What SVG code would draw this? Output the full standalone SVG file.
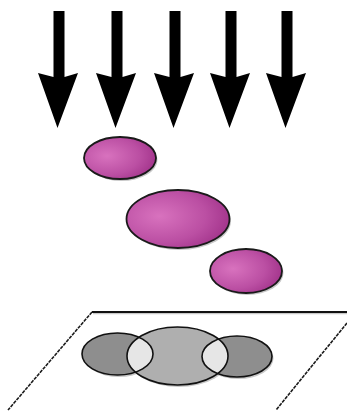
<svg xmlns="http://www.w3.org/2000/svg" width="347" height="411" viewBox="0 0 347 411">
<defs>
<radialGradient id="mag" cx="0.32" cy="0.45" r="0.75">
<stop offset="0" stop-color="#d872be"/>
<stop offset="0.6" stop-color="#bb4fa3"/>
<stop offset="1" stop-color="#9e2f87"/>
</radialGradient>
<clipPath id="clipC"><ellipse cx="177.5" cy="356" rx="50.5" ry="29"/></clipPath>
<path id="arrow" d="M-5.5 0 H5.5 V66 L19 62 L-1.5 117 L-21 62 L-5.5 66 Z"/>
</defs>
<style>
.arr{fill:#000}
.blob{fill:url(#mag);stroke:#1a1a1a;stroke-width:1.8}
.shadow{fill:#c8c8c8}
.outline{fill:none;stroke:#111;stroke-width:1.6}
.dark{fill:#8e8e8e}
.mid{fill:#afafaf}
.lens{fill:#e6e6e6}
.edge{fill:none;stroke:#1a1a1a;stroke-width:1.6;stroke-dasharray:3.5 1}
</style>
<rect width="347" height="411" fill="#fff"/>
<g id="arrows">
<use href="#arrow" x="59" y="11" class="arr"/>
<use href="#arrow" x="117" y="11" class="arr"/>
<use href="#arrow" x="175" y="11" class="arr"/>
<use href="#arrow" x="231" y="11" class="arr"/>
<use href="#arrow" x="287" y="11" class="arr"/>
</g>
<g id="blob1">
<ellipse class="shadow" cx="121.5" cy="160" rx="36" ry="21"/>
<ellipse class="blob" cx="120" cy="158" rx="36" ry="21"/>
</g>
<g id="blob2">
<ellipse class="shadow" cx="179.5" cy="221" rx="51.5" ry="29"/>
<ellipse class="blob" cx="178" cy="219" rx="51.5" ry="29"/>
</g>
<g id="blob3">
<ellipse class="shadow" cx="247.5" cy="273" rx="36" ry="22"/>
<ellipse class="blob" cx="246" cy="271" rx="36" ry="22"/>
</g>
<g id="plane">
<line x1="92" y1="312" x2="347" y2="312" stroke="#c8c8c8" stroke-width="1.5" transform="translate(1,1.5)"/>
<line x1="92" y1="312" x2="347" y2="312" stroke="#111" stroke-width="1.8"/>
<line class="edge" x1="92" y1="312" x2="8" y2="410"/>
<line class="edge" x1="347" y1="323" x2="276" y2="410"/>
</g>
<g id="venn">
<ellipse class="shadow" cx="119" cy="356" rx="35.5" ry="21"/>
<ellipse class="shadow" cx="238.5" cy="358.5" rx="35" ry="20.5"/>
<ellipse class="shadow" cx="179" cy="358" rx="50.5" ry="29"/>
<ellipse class="dark" cx="117.5" cy="354" rx="35.5" ry="21"/>
<ellipse class="dark" cx="237" cy="356.5" rx="35" ry="20.5"/>
<ellipse class="mid" cx="177.5" cy="356" rx="50.5" ry="29"/>
<g clip-path="url(#clipC)">
<ellipse class="lens" cx="117.5" cy="354" rx="35.5" ry="21"/>
<ellipse class="lens" cx="237" cy="356.5" rx="35" ry="20.5"/>
</g>
<ellipse class="outline" cx="117.5" cy="354" rx="35.5" ry="21"/>
<ellipse class="outline" cx="237" cy="356.5" rx="35" ry="20.5"/>
<ellipse class="outline" cx="177.5" cy="356" rx="50.5" ry="29"/>
</g>
</svg>
